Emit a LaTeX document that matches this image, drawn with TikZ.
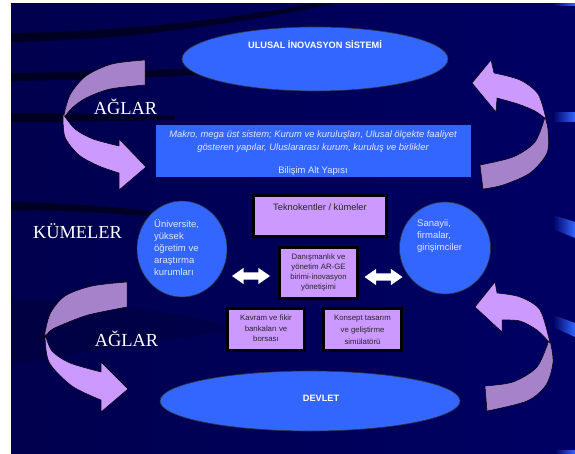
\documentclass[tikz,border=0pt]{standalone}
\usepackage{fontspec}
\setmainfont{Liberation Serif}
\setsansfont{Liberation Sans}
\usetikzlibrary{shapes.geometric,shapes.arrows,calc}

\definecolor{navy}{HTML}{000064}
\definecolor{navyd}{HTML}{00004E}
\definecolor{royal}{HTML}{3366FF}
\definecolor{lilac}{HTML}{CC99FF}
\definecolor{lilacd}{HTML}{A682CA}
\definecolor{paletxt}{HTML}{E4E6FF}

\begin{document}
\begin{tikzpicture}[x=1pt,y=-1pt,
  blueoval/.style={ellipse, fill=royal, draw=black!80, line width=0.6pt, inner sep=0pt},
  ovaltext/.style={font=\sffamily\bfseries\fontsize{9.2}{11}\selectfont, text=white},
  lilacbox/.style={rectangle, fill=lilac, draw=black, line width=3pt, inner sep=0pt},
  boxtext/.style={font=\sffamily\fontsize{7.8}{9.7}\selectfont, text=black!85, align=center},
  circtext/.style={font=\sffamily\fontsize{9.5}{12}\selectfont, text=paletxt, align=left, inner sep=0pt},
  ribbonfront/.style={fill=lilac, draw=black, line width=0.5pt, line join=round},
  ribbonback/.style={fill=lilacd, draw=black, line width=0.5pt, line join=round},
  band/.style={fill=black, opacity=0.55},
  banner/.style={font=\fontsize{18.4}{20}\selectfont, text=white, inner sep=0pt, anchor=base},
  whitearrow/.style={double arrow, fill=white, draw=none, inner xsep=0pt, inner ysep=3.5pt,
    minimum height=38pt, double arrow head extend=4.5pt, double arrow tip angle=70}
]
\useasboundingbox (0,0) rectangle (575,454);

% slide background
\fill[white] (0,0) rectangle (575,454);
\shade[left color=navyd, right color=navy] (11,4) rectangle (575,453);

% dark sweeping bands
\fill[band] (11,33) .. controls (140,31) and (230,18) .. (310,4) -- (335,4)
  .. controls (240,22) and (140,40) .. (11,42) -- cycle;
\fill[band] (11,73) .. controls (80,72) and (150,71) .. (230,66) -- (230,73)
  .. controls (150,78) and (80,80) .. (11,81) -- cycle;
\fill[band] (11,113) .. controls (60,113) and (120,114) .. (175,116) -- (175,120)
  .. controls (120,121) and (60,122) .. (11,122) -- cycle;
\fill[band] (11,202) .. controls (60,203) and (110,206) .. (160,212) -- (160,217)
  .. controls (110,213) and (60,210) .. (11,210) -- cycle;
\fill[black, opacity=0.15] (11,300) .. controls (80,298) and (180,310) .. (240,330)
  .. controls (160,340) and (80,352) .. (11,365) -- cycle;

% blue glints on the right edge
\shade[left color=navy, right color=royal] (553,4) rectangle (575,6);
\shade[left color=navy, right color=royal] (553,113) rectangle (575,122);
\shade[left color=navy, right color=royal] (553,215) -- (575,222) -- (575,238) -- (553,229) -- cycle;
\shade[left color=navy, right color=royal] (553,315) -- (575,323) -- (575,337) -- (553,327) -- cycle;
\shade[left color=navy, right color=royal] (555,450) rectangle (575,453);

% curved ribbon arrows: top left
\filldraw[ribbonback] plot[smooth] coordinates {(145,60) (112,64) (86,76) (70,95) (63,119)}
  -- plot[smooth] coordinates {(63,119) (72,108) (86,98) (110,89) (145,85)} -- cycle;
\filldraw[ribbonfront] plot[smooth] coordinates {(63,114) (65,137) (79,155) (99,166) (119,173)}
  -- (119,190) -- (146,167) -- (119,139) -- (119,146)
  -- plot[smooth] coordinates {(119,146) (93,139) (75,129) (63,114)} -- cycle;
% top right
\filldraw[ribbonback] plot[smooth] coordinates {(545,117) (548,130) (547,153) (530,173) (503,185) (483,189)}
  -- (480,165) -- plot[smooth] coordinates {(480,165) (513,157) (535,142) (545,117)} -- cycle;
\filldraw[ribbonfront] (472,83) -- (491,60) -- (494,73)
  -- plot[smooth] coordinates {(494,73) (520,80) (538,94) (546,119)}
  -- plot[smooth] coordinates {(546,119) (535,111) (518,104) (497,98)} -- (496,112) -- cycle;
% bottom left
\filldraw[ribbonback] plot[smooth] coordinates {(127,282) (92,286) (65,296) (50,314) (44,338)}
  -- plot[smooth] coordinates {(44,338) (50,331) (59,326) (88,315) (127,307)} -- cycle;
\filldraw[ribbonfront] plot[smooth] coordinates {(45,334) (49,362) (72,386) (101,400)}
  -- (101,412) -- (128,389) -- (101,362) -- (101,372)
  -- plot[smooth] coordinates {(101,372) (70,363) (52,351) (45,334)} -- cycle;
% bottom right
\filldraw[ribbonback] plot[smooth] coordinates {(550,340) (553,362) (546,385) (527,401) (487,411)}
  -- (485,386) -- plot[smooth] coordinates {(485,386) (513,382) (537,367) (549,340)} -- cycle;
\filldraw[ribbonfront] (475,307) -- (495,282) -- (497,293)
  -- plot[smooth] coordinates {(497,293) (520,297) (540,310) (550,343)}
  -- plot[smooth] coordinates {(550,343) (537,330) (520,321) (502,320)} -- (502,332) -- cycle;

% side labels
\node[banner] (ag1) at (125.5,115) {AĞLAR};
\node[banner] (kum) at (77.5,239) {KÜMELER};
\node[banner] (ag2) at (126.5,346) {AĞLAR};

% national innovation system
\node[blueoval, minimum width=266pt, minimum height=64pt] (nis) at (315,59) {};
\node[ovaltext] (nis-t) at (315,45) {ULUSAL İNOVASYON SİSTEMİ};

% macro system banner
\node[rectangle, fill=royal, minimum width=315pt, minimum height=52pt, inner sep=0pt] (makro) at (313.5,151.5) {};
\node[font=\sffamily\itshape\fontsize{9.4}{13}\selectfont, text=paletxt, align=center, inner sep=0pt] (makro-t)
  at (313,141.5) {Makro, mega üst sistem; Kurum ve kuruluşları, Ulusal ölçekte faaliyet\\
  gösteren yapılar, Uluslararası kurum, kuruluş ve birlikler};
\node[font=\sffamily\fontsize{9.4}{11}\selectfont, text=paletxt, inner sep=0pt] (bilisim) at (313,171) {Bilişim Alt Yapısı};

% actors
\node[blueoval, minimum width=90pt, minimum height=96pt] (uni) at (182,249) {};
\node[circtext, anchor=west] (uni-t) at (154,248) {Üniversite,\\yüksek\\öğretim ve\\araştırma\\kurumları};
\node[blueoval, minimum width=91pt, minimum height=92pt] (san) at (445,248) {};
\node[circtext, anchor=west] (san-t) at (417,236) {Sanayii,\\firmalar,\\girişimciler};

% cluster boxes
\node[lilacbox, minimum width=133pt, minimum height=41pt] (tk) at (320,216) {};
\node[font=\sffamily\fontsize{9.3}{11}\selectfont, text=black!85] (tk-t) at (320,207) {Teknokentler / kümeler};
\node[lilacbox, minimum width=78pt, minimum height=51pt] (dan) at (318.5,273) {};
\node[boxtext] (dan-t) at (318.5,272.5) {Danışmanlık ve\\yönetim AR-GE\\birimi-inovasyon\\yönetişimi};
\node[lilacbox, minimum width=77pt, minimum height=42pt] (kav) at (266,329.5) {};
\node[boxtext, font=\sffamily\fontsize{7.8}{10.5}\selectfont] (kav-t) at (266,328.5) {Kavram ve fikir\\bankaları ve\\borsası};
\node[lilacbox, minimum width=78pt, minimum height=42pt] (kon) at (362.5,329.5) {};
\node[boxtext, font=\sffamily\fontsize{7.8}{12}\selectfont] (kon-t) at (362.5,330) {Konsept tasarım\\ve geliştirme\\simülatörü};

% two-way links between the actors and the management unit
\node[whitearrow] (la) at (251,276) {};
\node[whitearrow] (ra) at (383.5,277) {};

% government
\node[blueoval, minimum width=300pt, minimum height=60pt] (dev) at (310,401) {};
\node[ovaltext] (dev-t) at (321,398) {DEVLET};
\end{tikzpicture}
\end{document}
